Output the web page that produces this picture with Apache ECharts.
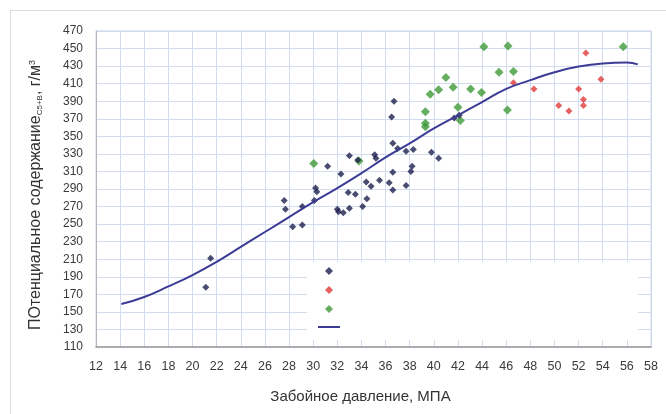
<!DOCTYPE html>
<html>
<head>
<meta charset="utf-8">
<script src="https://cdn.jsdelivr.net/npm/echarts@6/dist/echarts.min.js"></script>
<style>
  html, body { margin: 0; padding: 0; background: #fff; }
  #frame { position: absolute; left: 10px; top: 10px; width: 656px; height: 404px;
           border-left: 1px solid #dcdcdc; border-top: 1px solid #dcdcdc; box-sizing: border-box; }
  #chart { position: absolute; left: 0; top: 0; width: 666px; height: 414px; }
</style>
</head>
<body>
<div id="frame"></div>
<div id="chart"></div>
<script>
// Axis ticks
const xTicks = { min: 12, max: 58, step: 2 };
const yTicks = { min: 110, max: 470, step: 20 };

// Group 1 (dark navy points): [pressure MPa, content g/m3]
const darkPoints = [
  [21.1, 178], [21.5, 211],
  [27.6, 277], [27.7, 267], [28.3, 247], [29.1, 270], [29.1, 249],
  [30.1, 277], [30.2, 291], [30.3, 287],
  [31.2, 316], [32.3, 307],
  [32.0, 267], [32.1, 264], [32.5, 263], [33.0, 268],
  [33.0, 328], [32.9, 286], [33.5, 284], [33.7, 323],
  [34.1, 270], [34.45, 279], [34.4, 298], [34.8, 293],
  [35.1, 329], [35.2, 325], [35.5, 300],
  [36.3, 297], [36.6, 289], [36.6, 309],
  [36.5, 372], [36.7, 390], [36.6, 342], [37.0, 336],
  [37.7, 333], [38.3, 335], [37.7, 294],
  [38.1, 310], [38.2, 316],
  [39.8, 332], [40.4, 325],
  [41.7, 371], [42.1, 374]
];

// Group 2 (red points)
const redPoints = [
  [46.6, 411], [48.3, 404], [50.35, 385], [51.2, 379], [52.0, 404],
  [52.4, 392], [52.4, 385], [52.6, 445], [53.85, 415]
];

// Group 3 (green points)
const greenPoints = [
  [30.05, 319], [33.8, 322],
  [39.3, 378], [39.3, 365], [39.3, 361], [39.7, 398], [40.4, 403],
  [41.0, 417], [41.6, 406], [42.0, 383], [42.2, 368],
  [43.05, 404], [43.95, 400], [44.15, 452], [46.15, 453],
  [45.4, 423], [46.6, 424], [46.1, 380], [55.7, 452]
];

// Trend curve
const trendX = [14.1, 16, 18, 20, 22, 24, 26, 28, 30, 32, 34, 36, 38, 40, 42, 44, 46, 48, 50, 52, 54, 56, 56.9];
const trendY = [159, 167, 179, 192, 207, 224, 241, 258, 275, 291, 308, 326, 342, 359, 374, 389, 404, 414, 423, 429.5, 433, 434, 432];

const seriesNames = ['Группа 1', 'Группа 2', 'Группа 3', 'Тренд'];

const chart = echarts.init(document.getElementById('chart'), null, { renderer: 'canvas' });
const font = 'Liberation Sans, Arial, sans-serif';

chart.setOption({
  animation: false,
  textStyle: { fontFamily: font },
  grid: {
    left: 96, top: 31, right: 15, bottom: 67,
    show: true, borderColor: '#c9d0e0', borderWidth: 1, backgroundColor: 'transparent'
  },
  legend: [
    {
      orient: 'vertical',
      left: 307, top: 262,
      padding: [5, 305, 27, 18],
      itemGap: 11, itemWidth: 8, itemHeight: 8,
      backgroundColor: '#ffffff',
      formatter: () => '',
      selectedMode: false,
      data: seriesNames.slice(0, 3).map(n => ({ name: n, icon: 'diamond' })),
      z: 4
    },
    {
      orient: 'vertical',
      left: 318, top: 326,
      padding: 0,
      itemWidth: 22, itemHeight: 2,
      formatter: () => '',
      selectedMode: false,
      data: [{ name: seriesNames[3], icon: 'rect' }],
      z: 5
    }
  ],
  xAxis: {
    type: 'value',
    min: xTicks.min, max: xTicks.max, interval: xTicks.step,
    name: 'Забойное давление, МПА',
    nameLocation: 'middle', nameGap: 42,
    nameTextStyle: { fontSize: 15, color: '#333', fontFamily: font, padding: [0, 26, 0, 0] },
    axisLine: { show: true, lineStyle: { color: '#9a9a9a', width: 1.5 } },
    axisTick: { show: false },
    axisLabel: { fontSize: 12.5, color: '#3a3a3a', margin: 13, showMaxLabel: true },
    splitLine: { show: true, lineStyle: { color: '#d3dcef', width: 1 } }
  },
  yAxis: {
    type: 'value',
    min: yTicks.min, max: yTicks.max, interval: yTicks.step,
    name: 'ПОтенциальное содержание{sub|С5+В}, г/м{sup|3}',
    nameLocation: 'middle', nameGap: 52, nameRotate: 90,
    nameTextStyle: {
      fontSize: 16, color: '#333', fontFamily: font, padding: [0, 12, 0, 0],
      rich: {
        sub: { fontSize: 8, color: '#333', verticalAlign: 'bottom', padding: [6, 0, 0, 0] },
        sup: { fontSize: 9, color: '#333', verticalAlign: 'top', padding: [0, 0, 6, 0] }
      }
    },
    axisLine: { show: true, lineStyle: { color: '#b5b5c0', width: 1 } },
    axisTick: { show: false },
    axisLabel: { fontSize: 12, color: '#3a3a3a', margin: 13 },
    splitLine: { show: true, lineStyle: { color: '#d3dcef', width: 1 } }
  },
  series: [
    {
      name: seriesNames[0], type: 'scatter', data: darkPoints,
      symbol: 'diamond', symbolSize: 7,
      itemStyle: { color: '#1d1f4f' }, z: 3
    },
    {
      name: seriesNames[1], type: 'scatter', data: redPoints,
      symbol: 'diamond', symbolSize: 7,
      itemStyle: { color: '#e0393b' }, z: 3
    },
    {
      name: seriesNames[2], type: 'scatter', data: greenPoints,
      symbol: 'diamond', symbolSize: 9,
      itemStyle: { color: '#3f9a38' }, z: 2
    },
    {
      name: seriesNames[3], type: 'line',
      data: trendX.map((x, i) => [x, trendY[i]]),
      smooth: true, symbol: 'none',
      lineStyle: { color: '#3c3c96', width: 2 },
      itemStyle: { color: '#3c3c96' }, z: 4
    }
  ]
});
</script>
</body>
</html>
